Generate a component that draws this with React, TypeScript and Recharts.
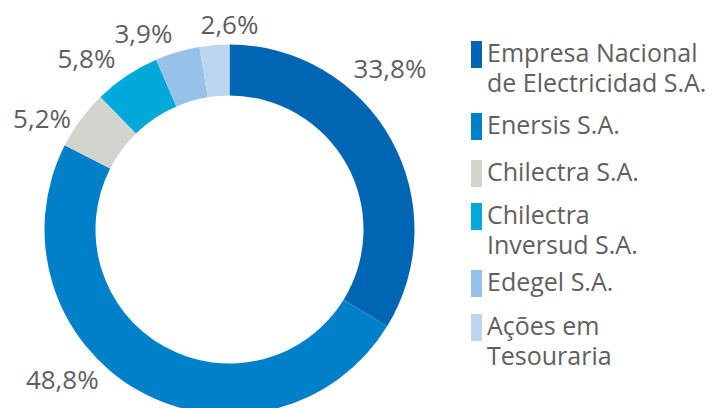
import React from "react";
import { PieChart, Pie, Cell, Legend } from "recharts";

// Ownership shares (%)
const COMPANIES = [
  "Empresa Nacional de Electricidad S.A.",
  "Enersis S.A.",
  "Chilectra S.A.",
  "Chilectra Inversud S.A.",
  "Edegel S.A.",
  "Ações em Tesouraria",
];
const LEGEND_LINES = [
  ["Empresa Nacional", "de Electricidad S.A."],
  ["Enersis S.A."],
  ["Chilectra S.A."],
  ["Chilectra", "Inversud S.A."],
  ["Edegel S.A."],
  ["Ações em", "Tesouraria"],
];
const SHARES = [33.8, 48.8, 5.2, 5.8, 3.9, 2.6];

const COLORS = ["#0066b3", "#0080c8", "#d4d4cf", "#00a9d9", "#96c1e8", "#bdd6f0"];
const TEXT = "#5f5f5f";
const FONT = "'Open Sans', sans-serif";

// where each percentage label sits around the ring (degrees, px from centre)
const LABEL_ANGLE = [45, -138, 149.3, 129.9, 113.7, 90];
const LABEL_RADIUS = [227, 225, 218, 223, 214, 205];
const LEGEND_GAP = [0, 12, 17, 13, 7, 14];

const data = COMPANIES.map((name, i) => ({ name, value: SHARES[i] }));

const RAD = Math.PI / 180;

function renderLabel(props: any) {
  const { cx, cy, index, value } = props;
  const a = LABEL_ANGLE[index] * RAD;
  const r = LABEL_RADIUS[index];
  const x = cx + r * Math.cos(a);
  const y = cy - r * Math.sin(a);
  return (
    <text
      x={x}
      y={y + 9.3}
      textAnchor="middle"
      fill={TEXT}
      fontSize={26}
      fontFamily={FONT}
    >
      {value.toFixed(1).replace(".", ",") + "%"}
    </text>
  );
}

function LegendContent() {
  return (
    <div style={{ fontFamily: FONT, fontSize: 25, color: TEXT, lineHeight: "30px" }}>
      {LEGEND_LINES.map((lines, i) => (
        <div
          key={i}
          style={{ display: "flex", alignItems: "flex-start", marginTop: LEGEND_GAP[i] }}
        >
          <div
            style={{
              width: 11,
              height: 27,
              background: COLORS[i],
              marginTop: 1,
              marginRight: 5,
              flexShrink: 0,
            }}
          />
          <div style={{ whiteSpace: "nowrap", position: "relative", top: -3 }}>
            {lines.map((l, j) => (
              <div key={j}>{l}</div>
            ))}
          </div>
        </div>
      ))}
    </div>
  );
}

export default function App() {
  return (
    <div style={{ position: "absolute", left: 0, top: 0, background: "#fff" }}>
      <PieChart width={715} height={408} margin={{ top: 0, right: 0, bottom: 0, left: 0 }}>
        <Pie
          data={data}
          dataKey="value"
          nameKey="name"
          cx={229.5}
          cy={229.5}
          innerRadius={134}
          outerRadius={185}
          startAngle={90}
          endAngle={-270}
          stroke="none"
          label={renderLabel}
          labelLine={false}
          isAnimationActive={false}
        >
          {data.map((d, i) => (
            <Cell key={d.name} fill={COLORS[i]} />
          ))}
        </Pie>
        <Legend
          content={<LegendContent />}
          layout="vertical"
          verticalAlign="top"
          align="right"
          wrapperStyle={{ left: 471, top: 40, right: "auto", width: 244 }}
        />
      </PieChart>
    </div>
  );
}
